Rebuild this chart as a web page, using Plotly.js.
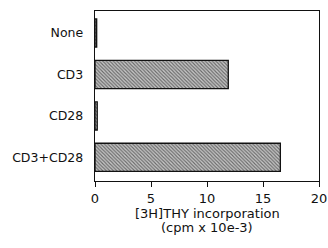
<!DOCTYPE html>
<html><head><meta charset="utf-8">
<script src="https://cdn.plot.ly/plotly-3.0.1.min.js"></script>
<style>html,body{margin:0;padding:0;background:#fff}#chart{width:328px;height:248px}</style>
</head><body><div id="chart"></div>
<script>
const categories = ["None", "CD3", "CD28", "CD3+CD28"];
const values = [0.15, 11.9, 0.2, 16.55];
const xTicks = [0, 5, 10, 15, 20];
const xTitleLines = ["[3H]THY incorporation", "(cpm x 10e-3)"];

const trace = {
  type: "bar", orientation: "h",
  y: categories, x: values,
  width: 0.68,
  marker: {
    color: "#a8a8a8",
    line: {color: "#111", width: 1.3},
    pattern: {shape: "\\", fgcolor: "#6a6a6a", bgcolor: "#c8c8c8", size: 2.5, solidity: 0.45}
  },
  hoverinfo: "none"
};
const plotBottom = 181, plotH = 170;
const layout = {
  width: 328, height: 248,
  margin: {l: 95, r: 9, t: 11, b: 67},
  paper_bgcolor: "#fff", plot_bgcolor: "#fff",
  font: {family: "DejaVu Sans", size: 12, color: "#111"},
  showlegend: false,
  xaxis: {
    range: [0, 20], tickvals: xTicks, ticktext: xTicks.map(String),
    ticks: "outside", ticklen: 5, tickwidth: 1, tickcolor: "#111",
    tickfont: {size: 13}, ticklabelstandoff: 0,
    showline: true, linecolor: "#111", linewidth: 1.3, mirror: true,
    showgrid: false, zeroline: false
  },
  yaxis: {
    categoryorder: "array", categoryarray: categories.slice().reverse(),
    range: [-0.57, 3.53],
    showline: true, linecolor: "#111", linewidth: 1.3, mirror: true,
    ticks: "", showgrid: false, zeroline: false, ticklabelstandoff: 8,
    tickfont: {size: 12.5}
  },
  annotations: xTitleLines.map((t, i) => ({
    text: t, showarrow: false, xref: "paper", yref: "paper",
    x: 0.5, y: (plotBottom - [213, 228][i]) / plotH,
    xanchor: "center", yanchor: "middle", font: {size: 13}
  }))
};
Plotly.newPlot("chart", [trace], layout, {staticPlot: true, displayModeBar: false});
</script></body></html>
